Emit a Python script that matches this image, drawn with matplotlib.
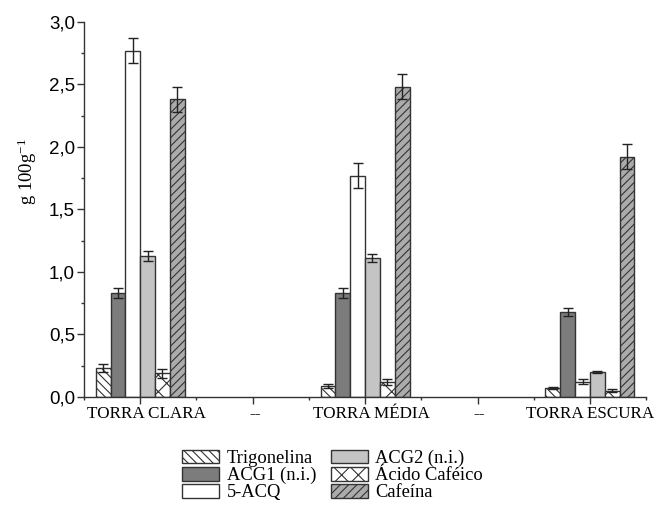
import matplotlib
matplotlib.use("Agg")
import matplotlib.pyplot as plt
import matplotlib.transforms as mtransforms
import numpy as np
from matplotlib.ticker import FixedLocator, NullFormatter

categories = ["TORRA CLARA", "--", "TORRA MÉDIA", "--", "TORRA ESCURA"]
series_names = ["Trigonelina", "ACG1 (n.i.)", "5-ACQ", "ACG2 (n.i.)", "Ácido Caféico", "Cafeína"]
# values for the three roast groups (clara, média, escura)
trigonelina = [0.23, 0.09, 0.07]
acg1 = [0.83, 0.83, 0.68]
acq5 = [2.77, 1.77, 0.12]
acg2 = [1.13, 1.11, 0.20]
acido_cafeico = [0.19, 0.12, 0.05]
cafeina = [2.38, 2.48, 1.92]
err_trigonelina = [0.03, 0.015, 0.01]
err_acg1 = [0.04, 0.04, 0.03]
err_acq5 = [0.10, 0.10, 0.02]
err_acg2 = [0.04, 0.03, 0.01]
err_acido_cafeico = [0.035, 0.025, 0.01]
err_cafeina = [0.10, 0.10, 0.10]
yticks = [0.0, 0.5, 1.0, 1.5, 2.0, 2.5, 3.0]
yticklabels = ["0,0", "0,5", "1,0", "1,5", "2,0", "2,5", "3,0"]

values = [trigonelina, acg1, acq5, acg2, acido_cafeico, cafeina]
errors = [err_trigonelina, err_acg1, err_acq5, err_acg2, err_acido_cafeico, err_cafeina]
styles = [
    dict(facecolor="white", hatch="\\\\\\\\"),
    dict(facecolor="#7c7c7c", hatch=None),
    dict(facecolor="white", hatch=None),
    dict(facecolor="#c4c4c4", hatch=None),
    dict(facecolor="white", hatch="xx"),
    dict(facecolor="#ababab", hatch="////"),
]

plt.rcParams["hatch.linewidth"] = 0.8
plt.rcParams["hatch.color"] = "#333333"
plt.rcParams["mathtext.fontset"] = "custom"
plt.rcParams["mathtext.rm"] = "Liberation Serif"
plt.rcParams["mathtext.it"] = "Liberation Serif"
plt.rcParams["mathtext.default"] = "regular"

fig = plt.figure(figsize=(6.56, 5.07), dpi=100)
ax = fig.add_axes([0.128, 0.217, 0.857, 0.740])

cat_x = np.arange(1, len(categories) + 1)
group_x = cat_x[[0, 2, 4]]
n = len(series_names)
w = 0.132
for i, (name, vals, errs, st) in enumerate(zip(series_names, values, errors, styles)):
    xs = group_x + (i - (n - 1) / 2) * w
    ax.bar(xs, vals, width=w, facecolor=st["facecolor"], hatch=st["hatch"],
           edgecolor="#333333", linewidth=1.0, label=name, zorder=2)
    ax.errorbar(xs, vals, yerr=errs, fmt="none", ecolor="#222222",
                elinewidth=1.0, capsize=3.5, capthick=1.0, zorder=3)

ax.set_xlim(0.5, 5.5)
ax.set_ylim(0, 3.0)
ax.xaxis.set_major_locator(FixedLocator(cat_x))
ax.xaxis.set_minor_locator(FixedLocator(np.arange(0.5, 5.6, 1.0)))
ax.xaxis.set_major_formatter(NullFormatter())
# category labels (slightly shifted right, as in the reference)
base = ax.get_xaxis_transform()
shifts = [6, 2, 6, 2, 0]
for xpos, lab, dx in zip(cat_x, categories, shifts):
    tr = base + mtransforms.ScaledTranslation(dx / 100, -9 / 100, fig.dpi_scale_trans)
    ax.text(xpos, 0, lab, transform=tr, ha="center", va="top",
            family="Liberation Serif", fontsize=12.3)

ax.yaxis.set_major_locator(FixedLocator(yticks))
ax.yaxis.set_minor_locator(FixedLocator(np.arange(0.25, 3.0, 0.5)))
ax.set_yticklabels(yticklabels, family="Liberation Sans", fontsize=13.5)

for s in ["top", "right"]:
    ax.spines[s].set_visible(False)
for s in ["left", "bottom"]:
    ax.spines[s].set_linewidth(1.0)
    ax.spines[s].set_color("#333333")
ax.tick_params(which="major", direction="out", length=5, width=1, color="#333333", pad=1.5)
ax.tick_params(which="minor", direction="out", length=2.5, width=1, color="#333333")

ax.set_ylabel("g 100g$^{-1}$", family="Liberation Serif", fontsize=13.5)
ax.yaxis.set_label_coords(-0.08, 0.6)

fig.legend(loc="upper center", bbox_to_anchor=(0.507, 0.113), ncol=2,
           frameon=False, prop={"family": "Liberation Serif", "size": 13.3},
           handlelength=2.0, handleheight=0.75, handletextpad=0.4,
           labelspacing=0.0, columnspacing=0.8, borderaxespad=0, borderpad=0)

fig.savefig("out.png", dpi=100)
